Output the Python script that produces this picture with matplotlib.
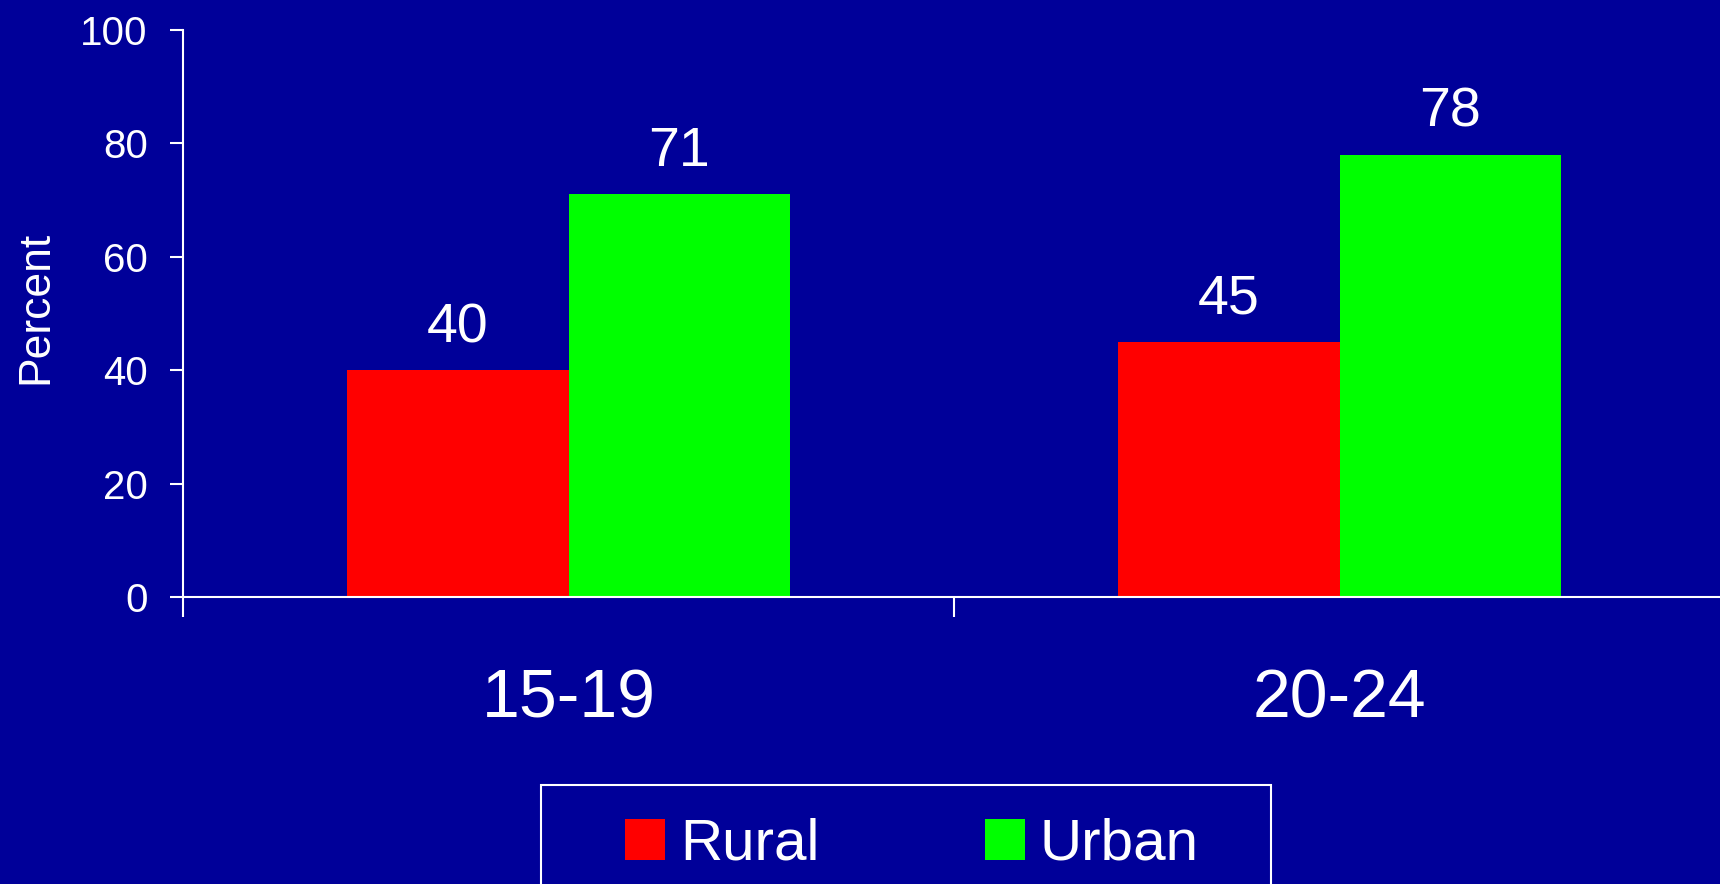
import numpy as np
import matplotlib
matplotlib.use("Agg")
import matplotlib.pyplot as plt
from matplotlib.patches import Rectangle

# --- data ---
age_groups = ["15-19", "20-24"]
rural = [40, 45]
urban = [71, 78]
series_names = ["Rural", "Urban"]

BG = "#000099"
RED = "#ff0000"
GREEN = "#00ff00"
W, H = 1720, 884

plt.rcParams['font.family'] = ['Liberation Sans', 'DejaVu Sans']

fig = plt.figure(figsize=(W / 100, H / 100), dpi=100, facecolor=BG)
# axes placed in pixel terms; right side runs past the figure edge like the original
ax = fig.add_axes([183 / W, (H - 597) / H, 1542 / W, 567 / H])
ax.set_facecolor(BG)

x = np.arange(len(age_groups))
bw = 0.287
b1 = ax.bar(x - bw / 2, rural, bw, color=RED, label=series_names[0])
b2 = ax.bar(x + bw / 2, urban, bw, color=GREEN, label=series_names[1])
for bars in (b1, b2):
    ax.bar_label(bars, padding=11.5, fontsize=40, color="white")

ax.set_xlim(-0.5, 1.5)
ax.set_ylim(0, 100)
ax.set_yticks(np.arange(0, 101, 20))

# category labels without ticks, separator ticks between groups
ax.set_xticks(x)
ax.set_xticklabels(age_groups)
ax.set_xticks([-0.5, 0.5, 1.5], minor=True)
ax.tick_params(axis="x", which="major", length=0, pad=51, labelsize=49, colors="white")
ax.tick_params(axis="x", which="minor", length=14.4, width=1.5, direction="out", color="white")
ax.tick_params(axis="y", length=9.4, width=1.5, direction="out", pad=16, labelsize=29, colors="white")

for s in ("top", "right"):
    ax.spines[s].set_visible(False)
for s in ("left", "bottom"):
    ax.spines[s].set_color("white")
    ax.spines[s].set_linewidth(1.5)

ax.set_ylabel("Percent", fontsize=32, color="white")
ax.yaxis.set_label_coords(-0.082, 0.51)

# legend box (bottom edge runs off the figure)
fig.patches.append(Rectangle((541 / W, (H - 785) / H - 0.5), 730 / W, 0.5,
                             transform=fig.transFigure, facecolor="none",
                             edgecolor="white", linewidth=1.5))
fig.legend(loc="center left", bbox_to_anchor=(625 / W, 1 - 845 / H), ncol=2,
           frameon=False, fontsize=42, labelcolor="white", borderpad=0,
           borderaxespad=0, handlelength=0.69, handleheight=0.69,
           handletextpad=0.25, columnspacing=2.84)

fig.savefig("out.png", dpi=100, facecolor=BG)
